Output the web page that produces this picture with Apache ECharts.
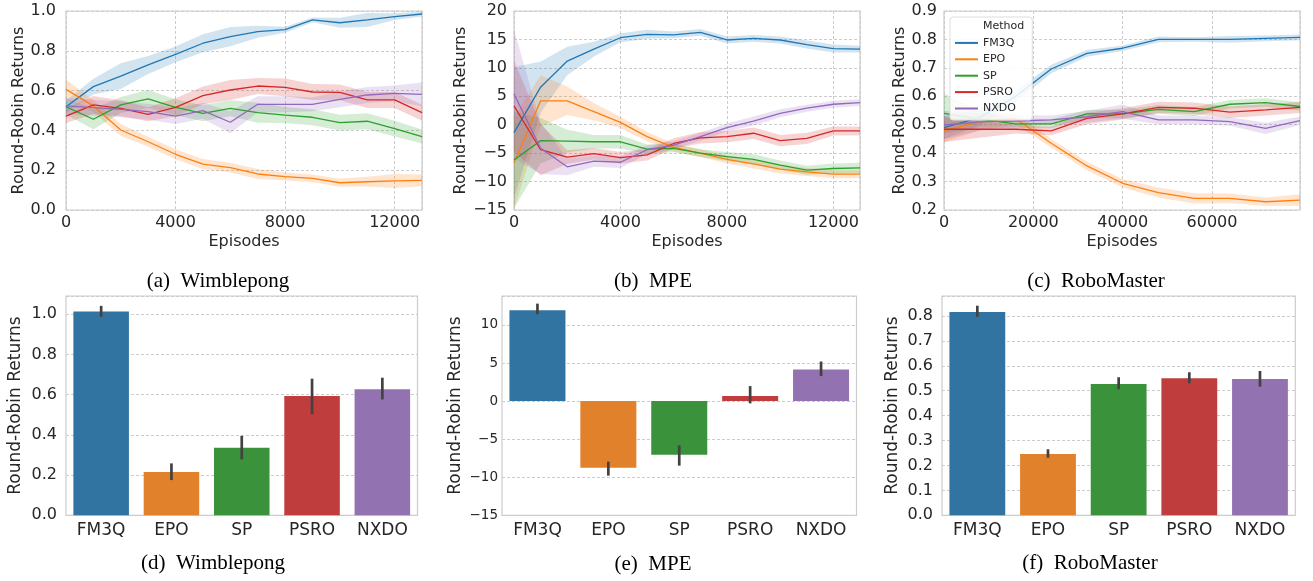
<!DOCTYPE html>
<html><head><meta charset="utf-8">
<script src="https://cdn.jsdelivr.net/npm/echarts@6/dist/echarts.min.js"></script>
<style>html,body{margin:0;padding:0;background:#fff}#c{width:1313px;height:581px}</style>
</head><body><div id="c"></div>
<script>
// ---------- DATA ----------
const methods = ['FM3Q', 'EPO', 'SP', 'PSRO', 'NXDO'];
const episodes13 = [0,1000,2000,3000,4000,5000,6000,7000,8000,9000,10000,11000,12000,13000];
const episodesRm = [0,8000,16000,24000,32000,40000,48000,56000,64000,72000,79700];

// (a) Wimblepong learning curves: mean and band half-width
const wimFM3Q  = [0.519,0.62,0.673,0.729,0.782,0.838,0.871,0.896,0.906,0.955,0.941,0.955,0.972,0.985];
const wimFM3QCi= [0.03,0.04,0.065,0.045,0.04,0.045,0.048,0.03,0.015,0.012,0.025,0.035,0.017,0.013];
const wimEPO   = [0.606,0.523,0.402,0.343,0.28,0.231,0.213,0.181,0.168,0.159,0.137,0.142,0.146,0.149];
const wimEPOCi = [0.05,0.03,0.03,0.025,0.025,0.025,0.025,0.025,0.02,0.02,0.02,0.025,0.035,0.03];
const wimSP    = [0.519,0.456,0.528,0.558,0.516,0.486,0.511,0.489,0.477,0.466,0.439,0.446,0.409,0.369];
const wimSPCi  = [0.04,0.05,0.04,0.045,0.04,0.04,0.04,0.05,0.04,0.04,0.04,0.04,0.04,0.035];
const wimPSRO  = [0.472,0.528,0.511,0.481,0.516,0.575,0.603,0.623,0.616,0.593,0.591,0.553,0.553,0.489];
const wimPSROCi= [0.035,0.045,0.04,0.035,0.045,0.045,0.05,0.04,0.045,0.04,0.04,0.04,0.04,0.04];
const wimNXDO  = [0.523,0.514,0.506,0.494,0.472,0.499,0.441,0.531,0.531,0.531,0.556,0.578,0.586,0.581];
const wimNXDOCi= [0.04,0.04,0.04,0.04,0.04,0.04,0.055,0.04,0.04,0.035,0.04,0.04,0.04,0.06];

// (b) MPE learning curves
const mpeFM3Q  = [-1.4,6.6,11.2,13.3,15.3,15.9,15.8,16.25,14.9,15.2,14.9,14.1,13.4,13.3];
const mpeFM3QCi= [11.5,4.5,2.5,1.3,0.8,0.8,0.6,0.6,0.6,0.6,0.6,0.7,0.7,0.6];
const mpeEPO   = [-6.7,4.2,4.2,2.3,0.4,-2.1,-4.0,-5.0,-6.1,-6.9,-7.8,-8.3,-8.7,-8.7];
const mpeEPOCi = [8,4.5,2.5,1.5,1,0.8,0.7,0.7,0.7,0.8,0.8,0.7,0.7,0.7];
const mpeSP    = [-6.2,-2.8,-2.9,-3.0,-3.0,-4.3,-4.15,-5.0,-5.6,-6.1,-7.1,-8.0,-7.7,-7.6];
const mpeSPCi  = [8.5,4,2,1.2,1.2,0.8,0.7,0.7,0.8,0.9,0.8,0.8,0.9,0.9];
const mpePSRO  = [3.3,-4.4,-5.7,-5.1,-5.8,-5.3,-3.3,-2.3,-2.1,-1.5,-2.8,-2.4,-1.1,-1.1];
const mpePSROCi= [8,4.5,1.2,1,1,1,0.9,1,1,1,1,1,0.8,0.8];
const mpeNXDO  = [5.4,-4.15,-7.4,-6.4,-6.6,-4.4,-3.6,-2.1,-0.5,0.65,2.0,2.9,3.6,3.9];
const mpeNXDOCi= [11.3,4.5,1.5,1,1,0.8,0.7,0.7,0.7,0.8,0.7,0.6,0.6,0.6];

// (c) RoboMaster learning curves
const rmFM3Q  = [0.49,0.526,0.599,0.696,0.751,0.769,0.80,0.80,0.80,0.804,0.807];
const rmFM3QCi= [0.04,0.03,0.02,0.015,0.012,0.01,0.01,0.008,0.012,0.01,0.01];
const rmEPO   = [0.479,0.51,0.522,0.435,0.355,0.294,0.261,0.241,0.241,0.229,0.235];
const rmEPOCi = [0.04,0.03,0.02,0.015,0.015,0.015,0.018,0.018,0.017,0.015,0.02];
const rmSP    = [0.54,0.52,0.503,0.503,0.538,0.538,0.554,0.546,0.572,0.578,0.564];
const rmSPCi  = [0.07,0.03,0.015,0.015,0.015,0.015,0.015,0.015,0.015,0.015,0.015];
const rmPSRO  = [0.484,0.484,0.484,0.478,0.522,0.538,0.561,0.558,0.544,0.552,0.561];
const rmPSROCi= [0.045,0.03,0.015,0.015,0.02,0.02,0.02,0.02,0.02,0.02,0.02];
const rmNXDO  = [0.499,0.51,0.513,0.517,0.528,0.546,0.517,0.517,0.511,0.487,0.514];
const rmNXDOCi= [0.05,0.03,0.02,0.015,0.02,0.025,0.015,0.015,0.015,0.02,0.015];

// (d)(e)(f) final returns: mean and error-bar low/high
const barWim   = [1.013,0.215,0.336,0.593,0.627];
const barWimLo = [0.987,0.175,0.278,0.503,0.576];
const barWimHi = [1.041,0.258,0.395,0.679,0.684];
const barMpe   = [11.93,-8.74,-7.04,0.66,4.15];
const barMpeLo = [11.4,-9.79,-8.48,-0.3,3.28];
const barMpeHi = [12.8,-7.95,-5.8,1.97,5.2];
const barRm    = [0.816,0.246,0.527,0.550,0.547];
const barRmLo  = [0.797,0.231,0.506,0.530,0.516];
const barRmHi  = [0.841,0.265,0.554,0.574,0.579];

// ---------- STYLE ----------
const lineColors = ['#1f77b4','#ff7f0e','#2ca02c','#d62728','#9467bd'];
const barColors  = ['#3274a1','#e1812c','#3a923a','#c03d3e','#9372b2'];
const SANS = 'DejaVu Sans';
const TXT = '#262626';
const GRIDC = '#cccccc';
const dashed = {show:true, lineStyle:{type:[3,2], color:GRIDC, width:1}};
const minusFmt = v => (v < 0 ? '\u2212' + Math.abs(v) : String(v));
const dec1 = v => v.toFixed(1);
const plain = v => String(v);

const grids = [
  {left:66,  top:11,  width:356,   height:199},
  {left:514, top:11,  width:346,   height:199},
  {left:944, top:11,  width:356,   height:199},
  {left:66,  top:296, width:351.5, height:219.3},
  {left:502, top:296, width:354.5, height:219.3},
  {left:942, top:296, width:353.3, height:219.3}
].map(g => Object.assign({show:true, borderColor:GRIDC, borderWidth:1.2, backgroundColor:'transparent', containLabel:false}, g));

function xVal(gi, max, interval) {
  return {type:'value', gridIndex:gi, min:0, max:max, interval:interval,
    axisLine:{show:false}, axisTick:{show:false}, splitLine:dashed,
    axisLabel:{fontFamily:SANS, fontSize:16, color:TXT, margin:5, showMaxLabel:false, formatter:plain},
    name:'Episodes', nameLocation:'middle', nameGap:24,
    nameTextStyle:{fontFamily:SANS, fontSize:16, color:TXT}};
}
function yVal(gi, min, max, interval, fmt, fs, margin, nameGap, nfs, hideMax) {
  return {type:'value', gridIndex:gi, min:min, max:max, interval:interval,
    axisLine:{show:false}, axisTick:{show:false}, splitLine:dashed,
    axisLabel:{fontFamily:SANS, fontSize:fs, color:TXT, margin:margin, formatter:fmt, showMaxLabel:!hideMax},
    name:'Round-Robin Returns', nameLocation:'middle', nameGap:nameGap, nameRotate:90,
    nameTextStyle:{fontFamily:SANS, fontSize:nfs, color:TXT}};
}
function xCat(gi) {
  return {type:'category', gridIndex:gi, data:methods,
    axisLine:{show:false}, axisTick:{show:false}, splitLine:{show:false},
    axisLabel:{fontFamily:SANS, fontSize:17, color:TXT, margin:7}};
}

const xAxis = [xVal(0,13000,4000), xVal(1,13000,4000), xVal(2,79700,20000), xCat(3), xCat(4), xCat(5)];
const yAxis = [
  yVal(0, 0, 1, 0.2, dec1, 16, 10, 39, 16, false),
  yVal(1, -15, 20, 5, minusFmt, 16, 7, 45, 16, false),
  yVal(2, 0.2, 0.9, 0.1, dec1, 16, 7, 36, 16, false),
  yVal(3, 0, 1.09, 0.2, dec1, 16, 9, 42, 17, true),
  yVal(4, -15, 13.8, 5, minusFmt, 13.5, 4, 38, 17, true),
  yVal(5, 0, 0.88, 0.1, dec1, 16, 9, 41, 17, true)
];

const panels = [
  {gi:0, x:episodes13, means:[wimFM3Q,wimEPO,wimSP,wimPSRO,wimNXDO], cis:[wimFM3QCi,wimEPOCi,wimSPCi,wimPSROCi,wimNXDOCi]},
  {gi:1, x:episodes13, means:[mpeFM3Q,mpeEPO,mpeSP,mpePSRO,mpeNXDO], cis:[mpeFM3QCi,mpeEPOCi,mpeSPCi,mpePSROCi,mpeNXDOCi]},
  {gi:2, x:episodesRm, means:[rmFM3Q,rmEPO,rmSP,rmPSRO,rmNXDO], cis:[rmFM3QCi,rmEPOCi,rmSPCi,rmPSROCi,rmNXDOCi]}
];

const series = [];
panels.forEach(p => {
  // confidence bands as one polygon each, placed through the axes
  p.means.forEach((m, k) => {
    const ci = p.cis[k];
    const rows = p.x.map((x,i)=>[x, m[i]-ci[i], m[i]+ci[i]]);
    series.push({type:'custom', xAxisIndex:p.gi, yAxisIndex:p.gi, silent:true, z:1,
      data:rows, encode:{x:0, y:[1,2]},
      renderItem:(params, api) => {
        if (params.dataIndex !== 0) return null;
        const upper = rows.map(r => api.coord([r[0], r[2]]));
        const lower = rows.map(r => api.coord([r[0], r[1]])).reverse();
        return {type:'polygon', shape:{points:upper.concat(lower)},
          style:{fill:lineColors[k], opacity:0.2}};
      }});
  });
  p.means.forEach((m, k) => {
    series.push({type:'line', name:methods[k], xAxisIndex:p.gi, yAxisIndex:p.gi,
      data:p.x.map((x,i)=>[x, m[i]]), symbol:'none', smooth:false,
      lineStyle:{color:lineColors[k], width:1.3}, itemStyle:{color:lineColors[k]}, z:3});
  });
});
series.push({type:'line', name:'Method', xAxisIndex:2, yAxisIndex:2, data:[], symbol:'none'});

const bars = [
  {gi:3, v:barWim, lo:barWimLo, hi:barWimHi},
  {gi:4, v:barMpe, lo:barMpeLo, hi:barMpeHi},
  {gi:5, v:barRm,  lo:barRmLo,  hi:barRmHi}
];
bars.forEach(b => {
  series.push({type:'bar', xAxisIndex:b.gi, yAxisIndex:b.gi, barWidth:'79%',
    data:b.v.map((v,i)=>({value:v, itemStyle:{color:barColors[i]}})), z:2});
  series.push({type:'custom', xAxisIndex:b.gi, yAxisIndex:b.gi, z:4, silent:true,
    data:b.v.map((v,i)=>[i, b.lo[i], b.hi[i]]),
    encode:{x:0, y:[1,2]},
    renderItem:(params, api) => {
      const p1 = api.coord([api.value(0), api.value(1)]);
      const p2 = api.coord([api.value(0), api.value(2)]);
      return {type:'line', shape:{x1:p1[0], y1:p1[1], x2:p2[0], y2:p2[1]},
        style:{stroke:'#424242', lineWidth:2.7}};
    }});
});

const captions = [
  ['(a)  Wimblepong', 218, 281], ['(b)  MPE', 653, 281], ['(c)  RoboMaster', 1096, 281],
  ['(d)  Wimblepong', 213, 563], ['(e)  MPE', 653, 564], ['(f)  RoboMaster', 1090, 563]
];

const chart = echarts.init(document.getElementById('c'));
chart.setOption({
  animation:false,
  backgroundColor:'#ffffff',
  grid:grids, xAxis:xAxis, yAxis:yAxis, series:series,
  legend:{left:950, top:17, orient:'vertical', itemWidth:23, itemHeight:11, itemGap:5.4,
    padding:[4,8,6,4], backgroundColor:'rgba(255,255,255,0.85)', borderColor:'#dddddd', borderWidth:1, borderRadius:3,
    textStyle:{fontFamily:SANS, fontSize:11, color:TXT}, itemStyle:{opacity:0}, lineStyle:{width:2}, selectedMode:false,
    data:[{name:'Method', lineStyle:{opacity:0}}, 'FM3Q','EPO','SP','PSRO','NXDO']},
  graphic: captions.map(c => ({type:'text', x:c[1], y:c[2],
    style:{text:c[0], fill:'#000', font:'21px "Liberation Serif"', textAlign:'center', textVerticalAlign:'middle'}}))
});
</script></body></html>
